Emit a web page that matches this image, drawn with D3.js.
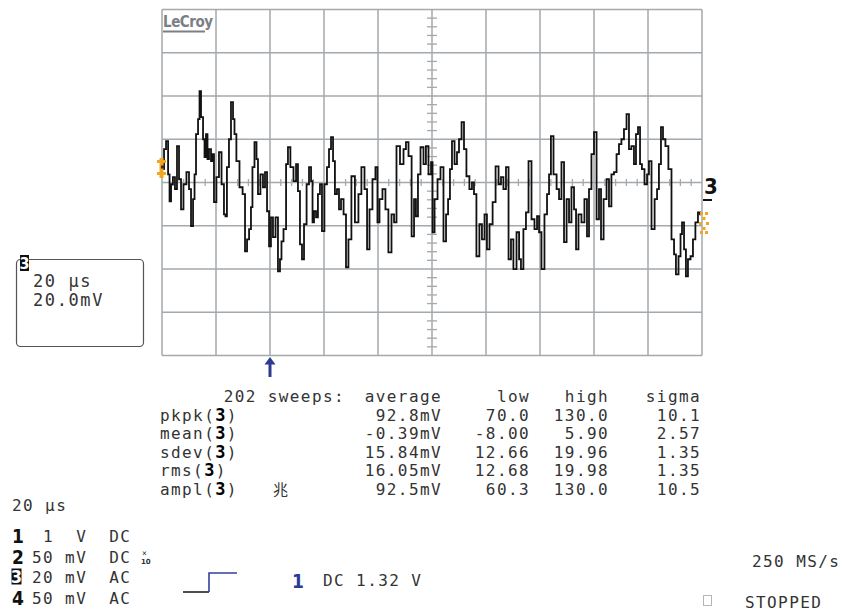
<!DOCTYPE html>
<html><head><meta charset="utf-8">
<script src="https://cdn.jsdelivr.net/npm/d3@7"></script>
<style>
html,body{margin:0;padding:0;background:#fff;}
svg{display:block;}
text{white-space:pre;}
.mono{font-family:'DejaVu Sans Mono','Liberation Mono',monospace;font-size:16px;letter-spacing:1.4px;fill:#333;}
.bnum{font-family:'Liberation Sans Narrow','DejaVu Sans Condensed',sans-serif;font-weight:bold;}
</style></head><body>
<svg id="c" width="844" height="611"></svg>
<script>
// ---- waveform (time in µs, amplitude in mV) ----
const traceT = [0.4,1.1,1.9,2.6,3.0,3.7,4.4,5.2,5.9,6.7,7.4,8.5,9.6,10.4,11.1,11.9,12.2,13.0,13.7,14.1,14.8,15.6,15.9,16.7,17.0,17.8,18.5,18.9,19.6,20.7,21.5,22.6,23.3,23.7,24.4,25.2,25.9,26.7,27.0,28.1,29.3,30.4,31.1,31.9,32.6,33.3,33.7,34.8,35.2,35.9,37.0,37.8,38.5,39.3,40.0,40.7,41.5,42.6,43.3,44.1,44.4,45.6,46.3,47.0,48.1,49.3,50.0,50.7,51.5,52.2,53.0,54.1,54.8,55.6,55.9,56.7,57.4,58.1,58.9,59.6,60.7,61.5,62.2,63.0,63.7,64.4,65.2,65.9,66.7,67.8,68.5,69.6,70.7,72.2,73.3,74.4,75.6,76.3,77.4,78.5,79.6,80.0,81.1,82.2,83.3,84.4,85.6,86.3,87.4,88.9,90.0,90.7,91.9,93.0,93.7,94.4,95.2,96.3,97.4,98.1,99.3,100.0,100.4,101.5,102.6,103.7,104.8,105.6,106.3,107.0,107.8,108.9,109.6,110.4,111.5,112.2,113.3,114.4,115.2,115.9,117.0,118.1,118.9,120.0,120.7,121.9,123.0,124.1,125.2,125.9,127.0,127.8,128.9,129.6,130.7,131.9,132.6,133.3,134.4,135.2,136.3,137.4,138.5,139.3,140.0,141.1,142.2,143.0,143.7,144.4,145.6,146.7,147.4,148.5,149.3,150.4,151.1,152.2,153.0,153.7,154.8,155.9,157.0,157.8,158.5,159.6,160.4,161.5,162.2,163.0,164.1,165.2,165.9,167.0,167.8,168.9,169.6,170.7,171.5,172.6,173.3,174.4,175.2,175.9,176.7,177.4,178.1,179.3,180.0,180.7,181.9,183.0,183.7,184.4,185.2,185.9,187.0,188.1,189.3,190.0,190.7,191.9,192.2,193.0,193.7,194.4,195.2,196.3,197.0,198.1,198.9,199.6];
const traceMv = [6.2,15.4,19.1,3.8,-8.7,-0.8,2.5,-3.1,16.8,1.5,-12.4,-0.8,4.8,-3.1,-20.2,-7.7,3.8,22.4,29.3,42.3,30.2,20.0,11.7,22.4,10.8,15.4,9.9,13.1,-9.1,2.5,14.0,-0.8,-14.7,-15.6,7.1,20.0,37.2,29.3,22.4,9.9,-2.2,-5.4,-31.8,-26.3,-21.6,-11.4,7.1,18.7,10.8,-5.4,3.8,-2.2,4.8,-13.3,-29.5,-16.1,-25.3,-16.1,-41.1,-35.5,-27.2,-21.6,8.5,16.3,7.1,0.6,8.5,-4.0,-28.6,-35.5,-19.3,-0.8,7.1,0.6,-18.4,-13.3,-16.1,-5.4,-0.8,-22.5,-0.8,7.1,15.4,21.0,9.9,-5.4,-3.1,-12.4,-7.7,-14.7,-39.2,-26.3,2.9,-18.4,-5.4,7.1,-3.1,-30.9,-12.4,1.5,7.1,-18.4,-7.7,-3.1,-12.4,-32.3,-14.7,-18.4,16.8,8.5,15.4,18.7,12.2,-24.9,-7.7,-15.6,3.8,16.3,8.5,16.8,3.8,9.4,-23.0,-7.7,1.5,7.1,-27.2,-14.7,-7.7,6.2,19.1,8.5,14.0,20.0,27.9,15.4,2.9,-3.1,0.1,-5.4,-34.1,-19.3,-26.3,-14.7,-30.9,-19.3,-9.1,7.5,-0.8,2.5,-3.1,7.1,-35.5,-26.3,-40.1,-23.0,-35.5,-40.1,-21.6,-13.8,9.9,-17.0,-21.6,-15.6,-23.0,-40.1,-14.7,-5.4,3.8,21.4,3.8,-3.1,-7.7,9.4,-27.6,-7.7,-18.4,-2.2,-12.4,-30.9,-14.7,-18.4,-7.7,-24.9,-3.1,13.1,23.3,-17.0,-3.1,-26.3,-7.7,1.5,-11.0,3.8,4.8,13.1,17.7,20.0,24.7,31.6,15.4,16.8,8.5,22.4,25.6,8.5,6.2,-0.8,3.8,9.9,-21.6,-7.7,-3.1,8.5,25.6,20.0,16.8,6.2,-26.3,-33.2,-42.5,-34.1,-23.9,-18.4,-30.9,-43.4,-35.5,-34.1,-26.3,-18.4,-13.8,-14.7];

// ---- measurement table ----
const sweeps = "202 sweeps:";
const colHeads = ["average", "low", "high", "sigma"];
const measNames = ["pkpk", "mean", "sdev", "rms", "ampl"];
const measAvg = ["92.8mV", "-0.39mV", "15.84mV", "16.05mV", "92.5mV"];
const measLow = ["70.0", "-8.00", "12.66", "12.68", "60.3"];
const measHigh = ["130.0", "5.90", "19.96", "19.98", "130.0"];
const measSigma = ["10.1", "2.57", "1.35", "1.35", "10.5"];

// ---- channel setup ----
const chanNums = ["1", "2", "3", "4"];
const chanSetup = [" 1  V  DC", "50 mV  DC", "20 mV  AC", "50 mV  AC"];
const timebase = "20 µs";
const traceBox = ["20 µs", "20.0mV"];
const trigText = "DC 1.32 V";
const sampleRate = "250 MS/s";
const status = "STOPPED";

const svg = d3.select("#c");
svg.append("rect").attr("width", 844).attr("height", 611).attr("fill", "#fff");

const x = d3.scaleLinear().domain([0, 200]).range([162, 702]);
const y = d3.scaleLinear().domain([-80, 80]).range([355.5, 9.5]);
const gridCol = "#a3a9ad";

const grid = svg.append("g");
grid.selectAll("line.v").data(d3.range(0, 201, 20)).join("line").attr("class", "v")
  .attr("x1", d => x(d)).attr("x2", d => x(d)).attr("y1", y(80)).attr("y2", y(-80))
  .attr("stroke", gridCol).attr("stroke-width", 1.5);
grid.selectAll("line.h").data(d3.range(-80, 81, 20)).join("line").attr("class", "h")
  .attr("x1", x(0)).attr("x2", x(200)).attr("y1", d => y(d)).attr("y2", d => y(d))
  .attr("stroke", gridCol).attr("stroke-width", 1.5);
grid.selectAll("line.tx").data(d3.range(0, 201, 4).filter(d => d % 20 !== 0)).join("line").attr("class", "tx")
  .attr("x1", d => x(d)).attr("x2", d => x(d)).attr("y1", y(0) - 3.5).attr("y2", y(0) + 3.5)
  .attr("stroke", gridCol).attr("stroke-width", 1.3);
grid.selectAll("line.ty").data(d3.range(-80, 81, 4).filter(d => d % 20 !== 0)).join("line").attr("class", "ty")
  .attr("x1", x(100) - 5).attr("x2", x(100) + 5).attr("y1", d => y(d)).attr("y2", d => y(d))
  .attr("stroke", gridCol).attr("stroke-width", 1.3);

// LeCroy logo
svg.append("text").attr("x", 163).attr("y", 27).attr("textLength", 50)
  .attr("font-family", "'DejaVu Sans Condensed','DejaVu Sans',sans-serif").attr("font-weight", "bold")
  .attr("font-size", 15).attr("fill", "#7a8085").text("LeCroy");
svg.append("line").attr("x1", 163).attr("x2", 205).attr("y1", 31.5).attr("y2", 31.5)
  .attr("stroke", "#7a8085").attr("stroke-width", 2);

// trace (sampled, step-held like a scope display)
const line = d3.line().x(i => x(traceT[i])).y(i => y(traceMv[i])).curve(d3.curveStep);
svg.append("path").attr("d", line(d3.range(traceT.length)))
  .attr("fill", "none").attr("stroke", "#111").attr("stroke-width", 1.8).attr("stroke-linejoin", "miter");

// orange markers
const orange = "#f2a51f";
const om = svg.append("g").attr("fill", orange);
om.append("rect").attr("x", 159.5).attr("y", 158).attr("width", 4).attr("height", 20);
om.append("rect").attr("x", 157).attr("y", 160).attr("width", 9).attr("height", 3);
om.append("rect").attr("x", 157).attr("y", 172).attr("width", 9).attr("height", 3);
svg.append("rect").attr("x", 161).attr("y", 165.5).attr("width", 3).attr("height", 3).attr("fill", "#333");
[[700,212],[705,212],[702.5,217],[699,222],[706,222],[702.5,227],[700,231],[705,231]].forEach(p =>
  om.append("rect").attr("x", p[0]).attr("y", p[1]).attr("width", 3).attr("height", 3));

// channel 3 marker at right
svg.append("text").attr("class", "bnum").attr("x", 704).attr("y", 194).attr("font-size", 22).attr("fill", "#111").text("3");
svg.append("rect").attr("x", 703).attr("y", 199).attr("width", 9).attr("height", 2).attr("fill", "#111");

// trigger arrow
svg.append("path").attr("d", "M270,357 L264.5,364.5 L268.5,364.5 L268.5,377 L271.5,377 L271.5,364.5 L275.5,364.5 Z")
  .attr("fill", "#2e3b8f");

// trace descriptor box
svg.append("rect").attr("x", 16.5).attr("y", 259.5).attr("width", 127).attr("height", 87).attr("rx", 4)
  .attr("fill", "none").attr("stroke", "#555").attr("stroke-width", 1.2);
svg.append("rect").attr("x", 20).attr("y", 255).attr("width", 9).attr("height", 16).attr("fill", "#111");
svg.append("text").attr("class", "bnum").attr("x", 24.5).attr("y", 269).attr("text-anchor", "middle")
  .attr("font-size", 16).attr("fill", "#fff").text("3");
svg.selectAll("text.box").data(traceBox).join("text").attr("class", "box mono")
  .attr("x", 33).attr("y", (d, i) => 287 + i * 19).style("font-size", "17px").style("letter-spacing", "1.6px").text(d => d);

// measurement table
const rowY = i => 402 + i * 18.6;
svg.append("text").attr("class", "mono").attr("x", 345).attr("y", rowY(0)).attr("text-anchor", "end").text(sweeps);
const colRight = [442, 530, 609, 701];
svg.selectAll("text.head").data(colHeads).join("text").attr("class", "head mono")
  .attr("x", (d, i) => colRight[i]).attr("y", rowY(0)).attr("text-anchor", "end").text(d => d);
const lab = svg.selectAll("text.lab").data(measNames).join("text").attr("class", "lab mono")
  .attr("x", 160).attr("y", (d, i) => rowY(i + 1));
lab.append("tspan").text(d => d + "(");
lab.append("tspan").attr("font-weight", "bold").attr("fill", "#000").style("font-size", "17px").text("3");
lab.append("tspan").text(")");
[measAvg, measLow, measHigh, measSigma].forEach((col, c) => {
  svg.selectAll("text.c" + c).data(col).join("text").attr("class", "c" + c + " mono")
    .attr("x", colRight[c]).attr("y", (d, i) => rowY(i + 1)).attr("text-anchor", "end").text(d => d);
});
svg.append("text").attr("x", 273).attr("y", rowY(5)).attr("font-family", "'Noto Sans CJK SC',sans-serif")
  .attr("font-size", 15).attr("fill", "#333").text("兆");

// bottom-left channel setup
svg.append("text").attr("class", "mono").attr("x", 12).attr("y", 511).text(timebase);
const chY = i => 542 + i * 20.5;
chanNums.forEach((n, i) => {
  if (n === "3") {
    svg.append("rect").attr("x", 11.5).attr("y", chY(i) - 14.5).attr("width", 10).attr("height", 16).attr("fill", "#111");
    svg.append("text").attr("class", "bnum").attr("x", 16.5).attr("y", chY(i)).attr("text-anchor", "middle")
      .attr("font-size", 18).attr("fill", "#fff").text(n);
  } else {
    svg.append("text").attr("class", "bnum").attr("x", 12).attr("y", chY(i) + 1)
      .attr("font-size", 19).attr("fill", "#111").text(n);
  }
});
svg.selectAll("text.ch").data(chanSetup).join("text").attr("class", "ch mono")
  .attr("x", 32).attr("y", (d, i) => chY(i)).text(d => d);
svg.append("text").attr("x", 142).attr("y", chY(1) - 7).attr("font-family", "'DejaVu Sans Mono',monospace")
  .attr("font-size", 8).attr("fill", "#333").text("×");
svg.append("text").attr("x", 141).attr("y", chY(1) + 1).attr("font-family", "'DejaVu Sans',sans-serif")
  .attr("font-weight", "bold").attr("font-size", 7).attr("fill", "#333").text("10");

// trigger icon
svg.append("path").attr("d", "M183,592 H209").attr("stroke", "#222").attr("stroke-width", 1.6).attr("fill", "none");
svg.append("path").attr("d", "M209,592 V573 H237").attr("stroke", "#34409a").attr("stroke-width", 1.6).attr("fill", "none");
svg.append("text").attr("class", "bnum").attr("x", 292).attr("y", 588).attr("font-size", 19).attr("fill", "#2b3a9a").text("1");
svg.append("text").attr("class", "mono").attr("x", 323).attr("y", 586).text(trigText);

// right bottom
svg.append("text").attr("class", "mono").attr("x", 752).attr("y", 567).text(sampleRate);
svg.append("rect").attr("x", 703.5).attr("y", 595.5).attr("width", 8).attr("height", 10)
  .attr("fill", "none").attr("stroke", "#b5b5b5").attr("stroke-width", 1);
svg.append("text").attr("class", "mono").attr("x", 745).attr("y", 608).text(status);
</script>
</body></html>
